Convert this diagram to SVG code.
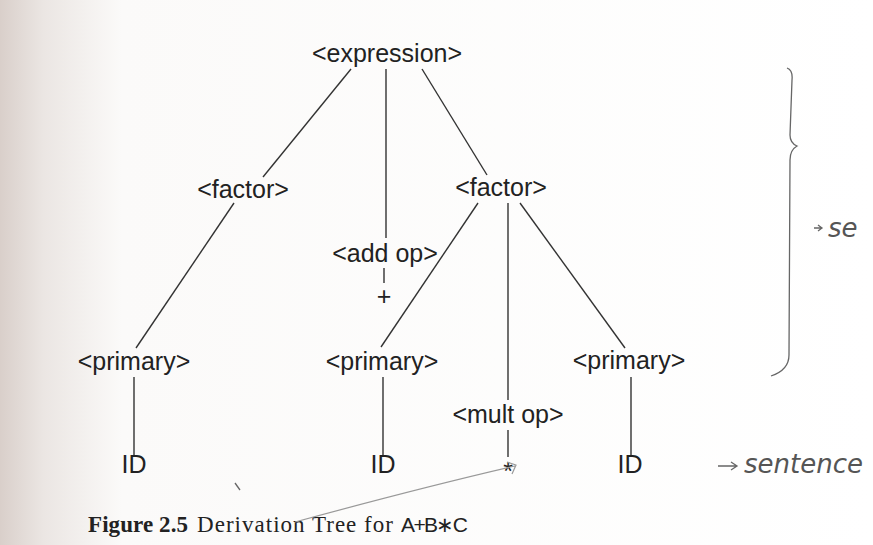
<svg xmlns="http://www.w3.org/2000/svg" width="873" height="545" viewBox="0 0 873 545">
<defs>
<linearGradient id="edge" x1="0" y1="0" x2="1" y2="0">
<stop offset="0" stop-color="#d9cfca"/>
<stop offset="0.05" stop-color="#ebe6e3"/>
<stop offset="0.14" stop-color="#fbfaf9"/>
<stop offset="1" stop-color="#ffffff"/>
</linearGradient>
<style>
.n{font-family:"Liberation Sans",Arial,sans-serif;font-size:25px;fill:#222;text-anchor:middle}
.e{stroke:#333;stroke-width:1.4;fill:none}
.hw{font-family:"DejaVu Sans",sans-serif;font-style:italic;font-size:26px;fill:#555}
.hl{stroke:#666;stroke-width:1.3;fill:none}
.cap{font-family:"Liberation Serif",serif;font-size:23px;fill:#222}
</style>
</defs>
<rect width="873" height="545" fill="url(#edge)"/>
<g id="connectors">
<line class="e" x1="351" y1="69" x2="263" y2="177"/>
<line class="e" x1="386" y1="69" x2="386" y2="238"/>
<line class="e" x1="422" y1="69" x2="487" y2="175"/>
<line class="e" x1="234" y1="203" x2="136" y2="348"/>
<line class="e" x1="134" y1="377" x2="134" y2="455"/>
<line class="e" x1="384" y1="268" x2="384" y2="283"/>
<line class="e" x1="478" y1="203" x2="381" y2="347"/>
<line class="e" x1="508" y1="203" x2="508" y2="400"/>
<line class="e" x1="520" y1="203" x2="625" y2="348"/>
<line class="e" x1="383" y1="377" x2="383" y2="455"/>
<line class="e" x1="508" y1="430" x2="508" y2="457"/>
<line class="e" x1="631" y1="377" x2="631" y2="455"/>
</g>
<g id="expression"><text class="n" x="387" y="62">&lt;expression&gt;</text></g>
<g id="factor1"><text class="n" x="243" y="198">&lt;factor&gt;</text></g>
<g id="addop"><text class="n" x="385" y="262">&lt;add op&gt;</text></g>
<g id="plus"><text class="n" x="384" y="305">+</text></g>
<g id="factor2"><text class="n" x="501" y="196">&lt;factor&gt;</text></g>
<g id="primary1"><text class="n" x="134" y="370">&lt;primary&gt;</text></g>
<g id="primary2"><text class="n" x="382" y="370">&lt;primary&gt;</text></g>
<g id="primary3"><text class="n" x="629" y="369">&lt;primary&gt;</text></g>
<g id="multop"><text class="n" x="508" y="423">&lt;mult op&gt;</text></g>
<g id="id1"><text class="n" x="134" y="473">ID</text></g>
<g id="id2"><text class="n" x="383" y="473">ID</text></g>
<g id="star"><text class="n" x="508" y="480">*</text></g>
<g id="id3"><text class="n" x="630" y="473">ID</text></g>
<g id="caption">
<text class="cap" x="88" y="532" font-weight="bold" textLength="100">Figure 2.5</text>
<text class="cap" x="197" y="532" textLength="196">Derivation Tree for</text>
<text x="401" y="532" textLength="67" style="font-family:'Liberation Sans',sans-serif;font-size:21px;fill:#222">A+B∗C</text>
</g>
<g id="annotations">
<path class="hl" d="M787 68 Q793 70 792 80 L790 135 Q790 143 797 146 Q790 150 790 160 L789 355 Q789 370 771 376"/>
<path class="hl" d="M814 228 L822 228 M818 225 L822 228 L818 231"/>
<text class="hw" x="828" y="237">se</text>
<path class="hl" d="M718 466 L736 466 M731 462 L737 466 L731 470"/>
<text class="hw" x="744" y="473">sentence</text>
<path d="M295 522 Q420 488 515 466 M507 462 L516 465 L512 474" style="stroke:#999;stroke-width:1.2;fill:none"/>
<path class="hl" d="M235 483 L240 490"/>
</g>
</svg>
